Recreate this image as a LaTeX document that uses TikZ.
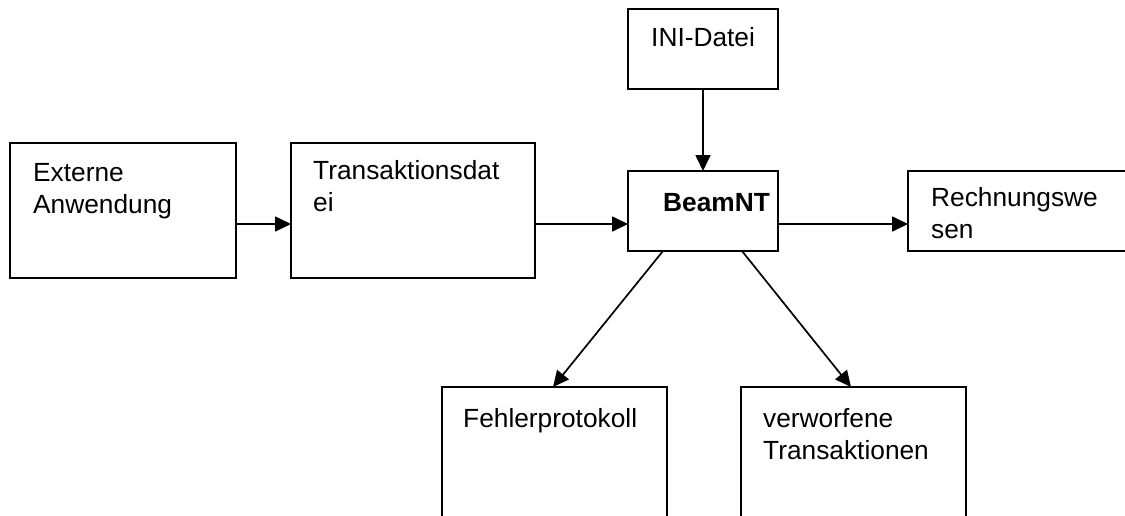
\documentclass[tikz,border=0pt]{standalone}
\usepackage{fontspec}
\setmainfont{Liberation Sans}
\usetikzlibrary{arrows.meta}
\begin{document}
\begin{tikzpicture}[x=1pt,y=-1pt,
  box/.style={draw, line width=2pt, rectangle, inner sep=0pt, outer sep=0pt, anchor=north west},
  lbl/.style={anchor=base west, inner sep=0pt, align=left, font=\fontsize{26.3}{32}\selectfont},
  arr/.style={line width=1.7pt, -{Triangle[length=16pt,width=15pt]}}]
\useasboundingbox (0,0) rectangle (1125,515);
\fill[white] (0,0) rectangle (1125,515);
\clip (0,0) rectangle (1125,515);
% boxes
\node[box, minimum width=226pt, minimum height=135pt] (ext) at (10,143) {};
\node[box, minimum width=244pt, minimum height=135pt] (trans) at (291,143) {};
\node[box, minimum width=150pt, minimum height=80pt] (ini) at (628,9) {};
\node[box, minimum width=150pt, minimum height=80pt] (beam) at (628,171) {};
\node[box, minimum width=240pt, minimum height=80pt] (rech) at (908,171) {};
\node[box, minimum width=225pt, minimum height=150pt] (fehler) at (442,387) {};
\node[box, minimum width=225pt, minimum height=150pt] (verw) at (741,387) {};
% texts (base anchor = baseline of last line)
\node[lbl] (textext) at (33,213) {Externe\\Anwendung};
\node[lbl] (texttrans) at (313,211) {Transaktionsdat\\ei};
\node[lbl] (textini) at (651,46) {INI-Datei};
\node[lbl, font=\fontsize{26.3}{32}\selectfont\bfseries] (textbeam) at (663,211) {BeamNT};
\node[lbl] (textrech) at (931,238) {Rechnungswe\\sen};
\node[lbl] (textfehler) at (463,427) {Fehlerprotokoll};
\node[lbl] (textverw) at (763,459) {verworfene\\Transaktionen};
% connectors
\coordinate (ylev) at (0,224);
\coordinate (bs1) at (663,251);
\coordinate (bs2) at (742,251);
\coordinate (ft) at (553,387);
\coordinate (vt) at (851,387);
\draw[arr] (ext.east |- ylev) -- (trans.west |- ylev);
\draw[arr] (trans.east |- ylev) -- (beam.west |- ylev);
\draw[arr] (beam.east |- ylev) -- (rech.west |- ylev);
\draw[arr] (ini.south) -- (beam.north);
\draw[arr] (bs1) -- (ft);
\draw[arr] (bs2) -- (vt);
\end{tikzpicture}
\end{document}
